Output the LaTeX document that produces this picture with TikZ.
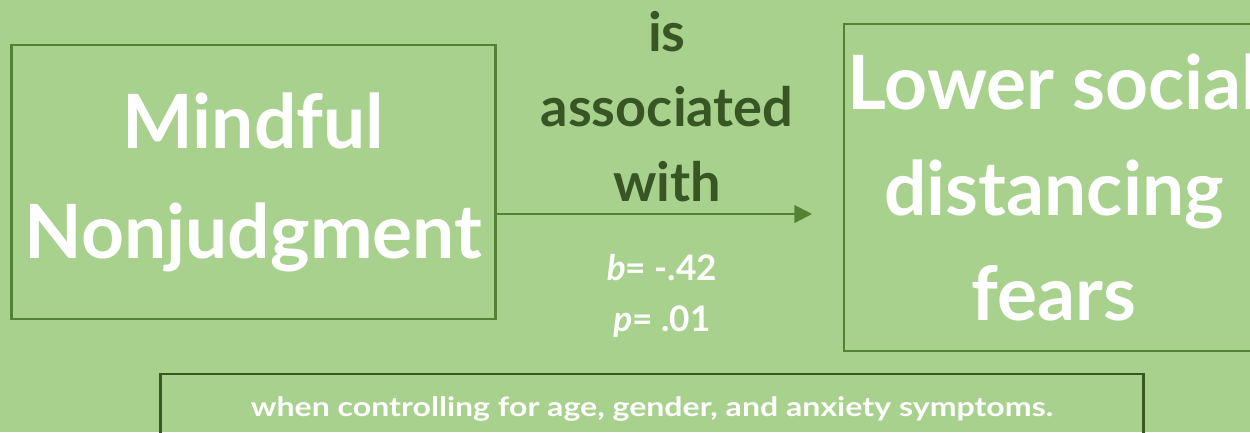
\documentclass[tikz,border=0pt]{standalone}
\usepackage{fontspec}
\setmainfont{Lato}
\usetikzlibrary{positioning,arrows.meta}

\definecolor{bggreen}{HTML}{A9D18E}
\definecolor{boxgreen}{HTML}{548235}
\definecolor{darkgreen}{HTML}{375623}
\definecolor{edgegreen}{HTML}{385723}

\tikzset{
  bigbox/.style={draw=boxgreen, line width=0.7pt, align=center, text=white,
    inner sep=0pt, font=\fontsize{21.3}{31.3}\selectfont\bfseries},
  verb/.style={align=center, text=darkgreen, inner sep=0pt,
    font=\fontsize{15.4}{21.3}\selectfont\bfseries},
  stats/.style={align=center, text=white, inner sep=0pt,
    font=\fontsize{10}{14.5}\selectfont\bfseries},
  notebox/.style={draw=edgegreen, line width=0.7pt, align=center, text=white,
    inner sep=0pt, font=\fontsize{7.6}{9}\selectfont\bfseries\addfontfeature{FakeStretch=1.2}},
  link/.style={-{Triangle[length=5pt, width=5pt]}, draw=boxgreen, line width=0.6pt}
}

\begin{document}
\begin{tikzpicture}[x=0.01cm, y=-0.01cm]

% Background
\fill[bggreen] (0,0) rectangle (1250,432);
\useasboundingbox (0,0) rectangle (1250,432);

% Boxes
\node[bigbox, minimum width=4.84cm, minimum height=2.74cm] (mindful) at (253.5,182)
  {Mindful\\Nonjudgment};
\node[bigbox, minimum width=4.20cm, minimum height=3.27cm, font=\fontsize{21.3}{29.9}\selectfont\bfseries]
  (fears) at (1054,187.5) {Lower social\\distancing\\fears};

% Path between them
\coordinate (tip) at (812,214);
\draw[link] (mindful.east |- tip) -- (tip);
\node[verb] (assoc) at (667,107) {is\\associated\\with};
\node[stats] (coef) at (662,296) {\textit{b}= -.42\\\textit{p}= .01};

% Covariates
\node[notebox, minimum width=9.82cm, minimum height=0.70cm] (covars) at (652,409)
  {when controlling for age, gender, and anxiety symptoms.};

\end{tikzpicture}
\end{document}
